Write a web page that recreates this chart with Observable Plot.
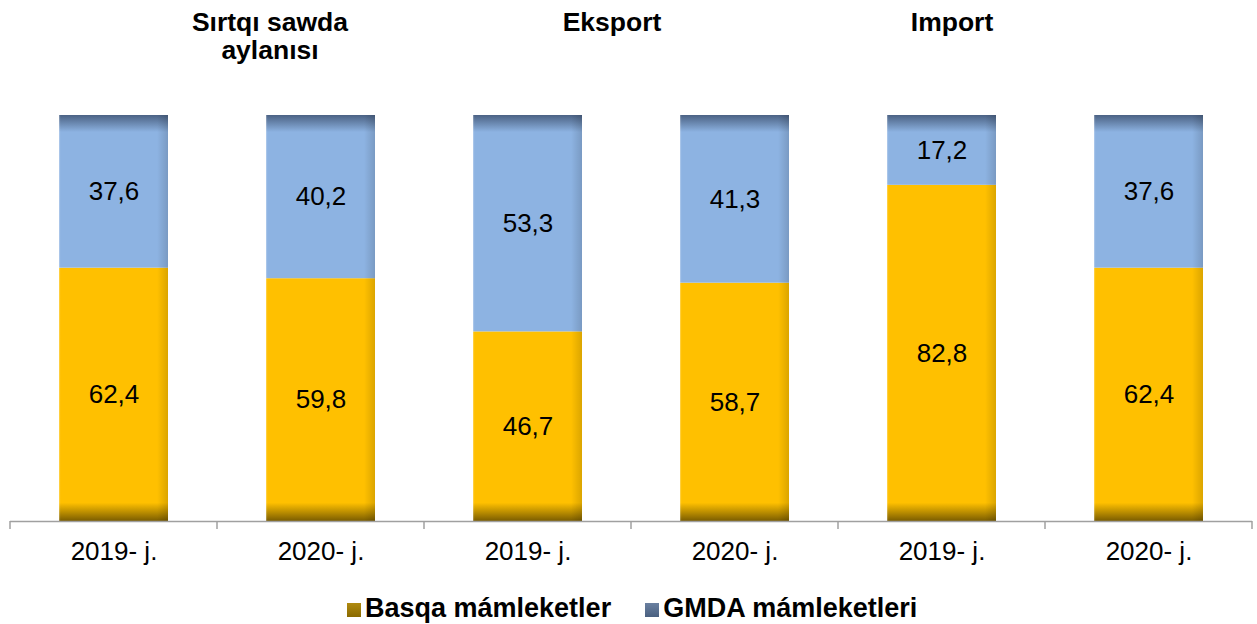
<!DOCTYPE html>
<html>
<head>
<meta charset="utf-8">
<script src="https://cdn.jsdelivr.net/npm/d3@7"></script>
<script src="https://cdn.jsdelivr.net/npm/@observablehq/plot@0.6"></script>
<style>
  html, body { margin: 0; padding: 0; background: #fff; }
  body { width: 1257px; height: 624px; position: relative; overflow: hidden;
         font-family: "Liberation Sans", Arial, sans-serif; }
  .title { position: absolute; width: 240px; text-align: center; font-weight: bold;
           font-size: 26.5px; line-height: 28px; color: #000; top: 8px; }
  .legend { position: absolute; left: 347px; top: 594px; display: flex; align-items: baseline;
            font-weight: bold; font-size: 27px; line-height: 28px; color: #000; white-space: nowrap; }
  .legend .sw { display: inline-block; width: 14px; height: 14px; margin-right: 4px; }
  .legend .item { display: flex; align-items: baseline; margin-right: 34px; }
  #chart { position: absolute; left: 0; top: 0; }
</style>
</head>
<body>
<div id="chart"></div>
<div class="title" style="left:150px">Sırtqı sawda<br>aylanısı</div>
<div class="title" style="left:492px">Eksport</div>
<div class="title" style="left:832px">Import</div>
<div class="legend">
  <div class="item"><span class="sw" style="background:linear-gradient(#b08a10,#8a6a00)"></span>Basqa mámleketler</div>
  <div class="item"><span class="sw" style="background:linear-gradient(#6a80a0,#4a6080)"></span>GMDA mámleketleri</div>
</div>
<script>
// Data
const groups = ["Sırtqı sawda aylanısı", "Sırtqı sawda aylanısı", "Eksport", "Eksport", "Import", "Import"];
const years = ["2019- j.", "2020- j.", "2019- j.", "2020- j.", "2019- j.", "2020- j."];
const basqa = [62.4, 59.8, 46.7, 58.7, 82.8, 62.4];
const gmda  = [37.6, 40.2, 53.3, 41.3, 17.2, 37.6];
const seriesNames = ["Basqa mámleketler", "GMDA mámleketleri"];

const keys = groups.map((g, i) => g + "|" + years[i]);
const rows = [];
keys.forEach((k, i) => {
  rows.push({key: k, series: seriesNames[0], value: basqa[i]});
  rows.push({key: k, series: seriesNames[1], value: gmda[i]});
});
const totals = keys.map(k => ({key: k, value: 100}));

const W = 1257, H = 624, mL = 10, mR = 5;
const fmt = v => v.toFixed(1).replace(".", ",");

const chart = Plot.plot({
  width: W, height: H,
  marginTop: 115, marginBottom: 103, marginLeft: mL, marginRight: mR,
  style: {fontFamily: "'Liberation Sans', Arial, sans-serif", background: "transparent"},
  x: {domain: keys, paddingInner: 0.473, paddingOuter: 0.2365, align: 0.5, axis: null},
  y: {domain: [0, 100], axis: null},
  color: {domain: seriesNames, range: ["url(#gYel)", "url(#gBlu)"]},
  marks: [
    Plot.barY(rows, Plot.stackY({x: "key", y: "value", fill: "series"})),
    Plot.barY(totals, {x: "key", y: "value", fill: "url(#gSide)"}),
    Plot.text(rows, Plot.stackY({x: "key", y: "value", text: d => fmt(d.value), fontSize: 26, fill: "#000"})),
    Plot.ruleY([0], {stroke: "#a0a0a0", strokeWidth: 1.5}),
    Plot.axisX({domain: keys, tickSize: 0, tickPadding: 20, fontSize: 26, fill: "#000", label: null,
      tickFormat: k => years[keys.indexOf(k)]})
  ]
});
document.getElementById("chart").appendChild(chart);

// tick marks at band boundaries, gradients from scales
const ys = chart.scale("y");
const xs = chart.scale("x");
const yTop = ys.apply(100), yBot = ys.apply(0);
const svg = chart;
const step = xs.step ?? (xs.bandwidth / (1 - 0.473));
const tg = d3.select(svg).append("g").attr("stroke", "#a0a0a0").attr("stroke-width", 1.5);
const bounds = keys.map(k => xs.apply(k) - (step - xs.bandwidth) / 2);
bounds.push(xs.apply(keys[keys.length - 1]) + xs.bandwidth + (step - xs.bandwidth) / 2);
bounds.forEach(bx => tg.append("line").attr("x1", bx).attr("x2", bx).attr("y1", yBot).attr("y2", yBot + 8));

const defs = d3.select(svg).insert("defs", ":first-child");
const mk = (id, stops, opts) => {
  const g = defs.append("linearGradient").attr("id", id);
  Object.entries(opts).forEach(([a, v]) => g.attr(a, v));
  stops.forEach(([o, c, op]) => g.append("stop").attr("offset", o).attr("stop-color", c).attr("stop-opacity", op ?? 1));
};
mk("gYel", [["0", "#ffc000"], ["0.955", "#ffc000"], ["0.98", "#b68a00"], ["1", "#7a5c00"]],
   {gradientUnits: "userSpaceOnUse", x1: 0, x2: 0, y1: yTop, y2: yBot});
mk("gBlu", [["0", "#4b6284"], ["0.02", "#6a88b0"], ["0.042", "#8db3e2"], ["1", "#8db3e2"]],
   {gradientUnits: "userSpaceOnUse", x1: 0, x2: 0, y1: yTop, y2: yBot});
mk("gSide", [["0", "#ffffff", 0.35], ["0.015", "#ffffff", 0], ["0.9", "#000000", 0], ["1", "#000000", 0.14]],
   {x1: 0, x2: 1, y1: 0, y2: 0});
</script>
</body>
</html>
